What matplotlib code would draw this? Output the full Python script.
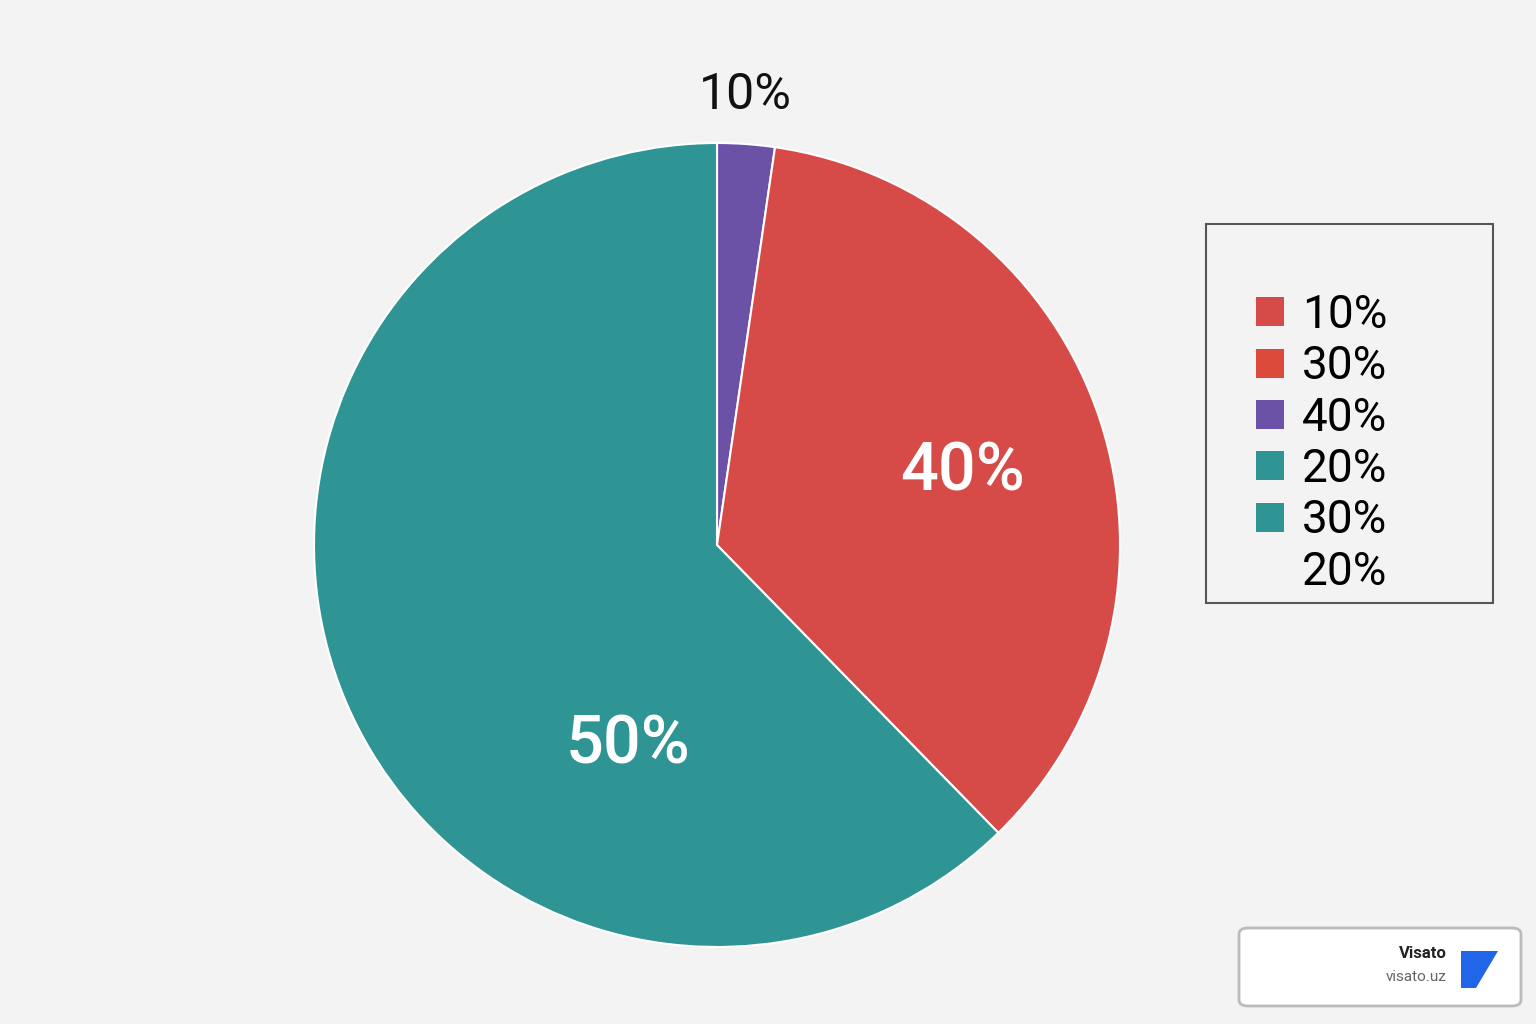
import matplotlib.pyplot as plt
from matplotlib.patches import Patch, FancyBboxPatch, Polygon, Rectangle

# slice shares (clockwise from top)
shares = [2.3, 35.4, 62.3]
slice_labels = ["10%", "40%", "50%"]
slice_colors = ["#6b52a6", "#d64a47", "#2e9494"]

legend_labels = ["10%", "30%", "40%", "20%", "30%", "20%"]
legend_colors = ["#d64a47", "#dc4a3c", "#6b52a6", "#2e9494", "#2e9494", "none"]

W, H = 1536, 1024
fig = plt.figure(figsize=(15.36, 10.24), dpi=100, facecolor="#f3f3f3")
plt.rcParams['font.family'] = ['Roboto', 'DejaVu Sans']

ax = fig.add_axes([314 / W, (H - 947) / H, 806 / W, 804 / H])
wedges, _ = ax.pie(shares, colors=slice_colors, startangle=90, counterclock=False,
                   wedgeprops=dict(edgecolor="white", linewidth=1.5))
ax.set_xlim(-1, 1)
ax.set_ylim(-1, 1)
ax.set_aspect("auto")
ax.axis("off")

ax.text(0.07, 1.12, slice_labels[0], ha="center", va="center", fontsize=36, color="#111111")
ax.text(0.61, 0.18, slice_labels[1], ha="center", va="center", fontsize=48, color="white",
        fontweight="medium")
ax.text(-0.22, -0.5, slice_labels[2], ha="center", va="center", fontsize=48, color="white",
        fontweight="medium")

# legend frame drawn separately so its size matches the reference
fig.patches.append(Rectangle((1206 / W, 1 - 603 / H), 287 / W, 379 / H,
                             transform=fig.transFigure, facecolor="#f3f3f3",
                             edgecolor="#555555", linewidth=1.5))
handles = [Patch(facecolor=c, edgecolor="none") for c in legend_colors]
leg = fig.legend(handles, legend_labels, loc="upper left",
                 bbox_to_anchor=(1256 / W, 1 - 293 / H), fontsize=33,
                 frameon=False, handlelength=0.6, handleheight=0.6, handletextpad=0.4,
                 labelspacing=0.16, borderpad=0, borderaxespad=0)

# watermark box
fig.patches.append(FancyBboxPatch((1239 / W, 18 / H), 282 / W, 78 / H,
                                  boxstyle="round,pad=0,rounding_size=0.006",
                                  transform=fig.transFigure, facecolor="white",
                                  edgecolor="#bbbbbb", linewidth=2))
fig.text(1447 / W, 1 - 954 / H, "Visato", ha="right", va="center", fontsize=12,
         fontweight="bold", color="#222222")
fig.text(1447 / W, 1 - 977 / H, "visato.uz", ha="right", va="center", fontsize=11,
         color="#666666")
fig.patches.append(Polygon([(1461 / W, 1 - 951 / H), (1498 / W, 1 - 951 / H),
                            (1476 / W, 1 - 988 / H), (1461 / W, 1 - 988 / H)],
                           closed=True, transform=fig.transFigure, facecolor="#2166e8"))

fig.savefig("out.png", dpi=100, facecolor=fig.get_facecolor())
